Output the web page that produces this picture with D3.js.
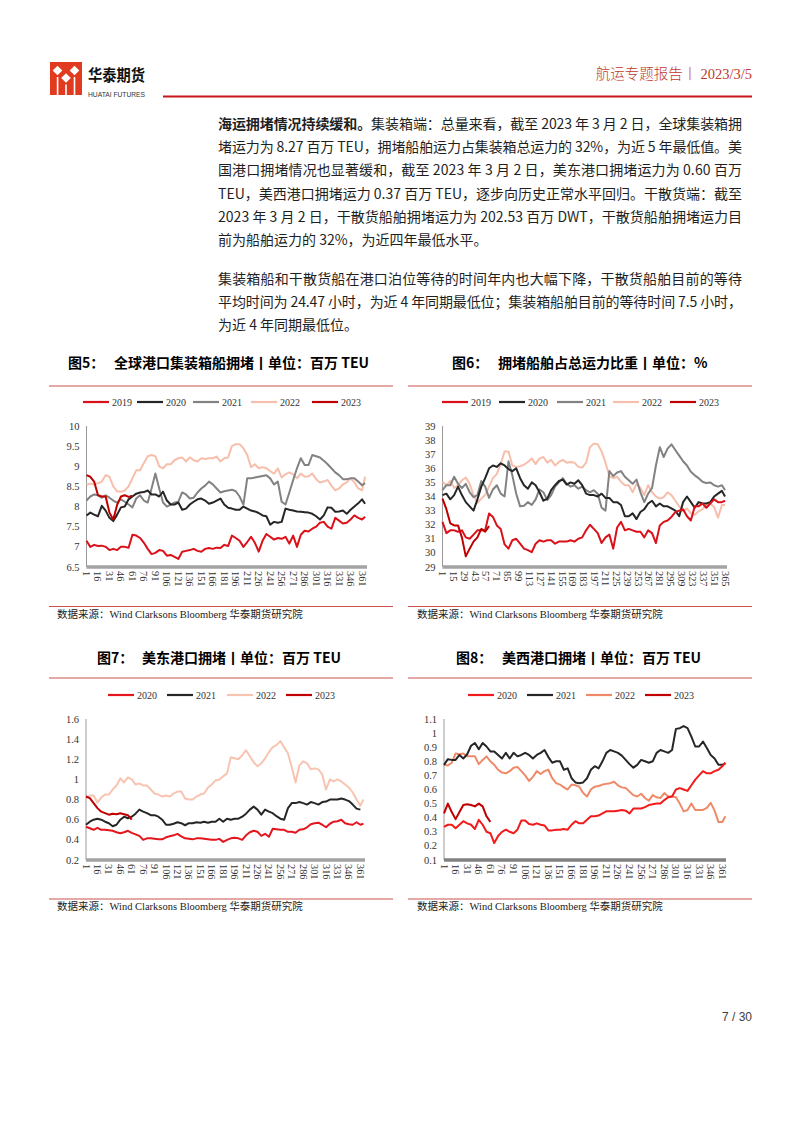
<!DOCTYPE html>
<html><head><meta charset="utf-8">
<script src="https://cdn.jsdelivr.net/npm/d3@7"></script>
<style>
html,body{margin:0;padding:0;background:#fff;}
svg{display:block;}
</style></head><body>
<svg id="page" width="802" height="1133"></svg>
<script>
// ---------- DATA ----------
const days = [1,6,11,16,21,26,31,36,41,46,51,56,61,66,71,76,81,86,91,96,101,106,111,116,121,126,131,136,141,146,151,156,161,166,171,176,181,186,191,196,201,206,211,216,221,226,231,236,241,246,251,256,261,266,271,276,281,286,291,296,301,306,311,316,321,326,331,336,341,346,351,356,361,365];

// Fig 5: global port container ship congestion (mn TEU)
const f5Years = ["2019","2020","2021","2022","2023"];
const f5_2019 = [7.15,7.0,7.05,7.02,7.03,7.0,6.92,6.95,6.92,7.0, 7.0,6.98,7.3,7.28,7.22,7.1,6.95,6.82,6.85,6.92, 6.9,6.78,6.8,6.75,6.7,6.88,6.9,6.92,6.95,6.9, 6.88,6.95,6.97,6.95,6.98,6.97,7.05,7.02,7.28,7.22, 7.15,7.0,7.12,7.25,7.1,6.88,7.15,7.32,7.25,7.18, 7.22,7.2,7.25,7.08,7.28,7.0,7.3,7.4,7.38,7.45, 7.5,7.6,7.62,7.5,7.45,7.72,7.65,7.58,7.6,7.68, 7.78,7.72,7.68,7.75];
const f5_2020 = [7.78,7.85,7.8,7.76,8.02,7.9,7.72,7.64,7.8,7.98, 8.0,8.18,8.25,8.32,8.35,8.36,8.4,8.3,8.3,8.25, 8.37,8.15,8.05,8.05,8.1,7.92,7.95,8.05,8.12,8.18, 8.2,8.15,8.07,8.1,8.15,8.2,8.05,7.97,7.95,7.92, 7.92,8.0,7.95,7.9,7.88,7.84,7.78,7.76,7.55,7.62, 7.6,7.62,7.95,7.92,7.9,7.88,7.87,7.86,7.85,7.82, 7.76,7.68,7.78,7.98,7.97,7.87,7.88,7.9,7.82,7.92, 8.0,8.08,8.18,8.07];
const f5_2021 = [8.15,8.25,8.3,8.28,8.22,8.28,8.22,8.15,8.1,8.18, 8.12,8.05,7.98,8.2,8.28,8.15,8.1,8.45,8.82,8.45, 8.1,8.0,8.05,8.1,8.12,8.35,8.3,8.2,8.22,8.35, 8.45,8.52,8.62,8.55,8.45,8.35,8.38,8.4,8.42,8.38, 8.25,8.05,8.7,8.7,8.72,8.74,8.76,8.78,8.7,8.55, 8.62,8.12,8.05,8.35,8.66,8.95,9.2,9.03,9.03,9.28, 9.25,9.22,9.14,9.05,8.95,8.85,8.78,8.68,8.68,8.7, 8.7,8.62,8.53,8.58];
const f5_2022 = [8.54,8.57,8.55,8.58,8.62,8.78,8.74,8.5,8.38,8.37, 8.4,8.5,8.7,8.9,8.9,9.08,9.25,9.28,9.25,9.0, 8.95,9.05,9.05,9.15,9.2,9.22,9.12,9.22,9.15,9.12, 9.2,9.18,9.2,9.2,9.24,9.12,9.2,9.22,9.5,9.55, 9.55,9.45,9.28,8.98,9.05,8.95,8.98,8.95,8.88,8.82, 8.95,8.72,8.8,8.85,8.8,8.7,8.82,8.74,8.75,8.82, 8.68,8.6,8.62,8.66,8.52,8.4,8.45,8.55,8.6,8.7, 8.6,8.45,8.4,8.74];
const f5_2023 = [8.78,8.74,8.62,8.28,8.25,8.25,7.85,7.68,8.04,8.25,8.28,8.24,8.27];
const f5YTicks = [6.5,7,7.5,8,8.5,9,9.5,10];
const f5XTicks = [1,16,31,46,61,76,91,106,121,136,151,166,181,196,211,226,241,256,271,286,301,316,331,346,361];

// Fig 6: congested ships share of total capacity (%)
const f6Years = ["2019","2020","2021","2022","2023"];
const f6_2019 = [32.2,31.4,31.6,31.6,31.5,31.6,31.1,31.0,31.3,31.6, 31.6,31.6,32.8,32.55,31.95,31.7,30.6,30.3,30.9,31.0, 30.65,30.3,30.2,30.05,30.65,30.9,30.8,30.9,30.9,30.65, 30.8,30.8,30.8,30.9,30.8,31.0,31.1,31.6,32.0,31.7, 31.4,30.7,31.1,31.3,30.3,31.8,32.2,31.6,31.7,31.6, 31.5,31.5,31.1,31.6,31.4,30.7,31.95,32.2,32.3,32.55, 32.9,33.0,33.1,32.6,32.3,33.3,33.3,33.5,33.2,33.5, 33.8,33.6,33.6,33.7];
const f6_2020 = [34.1,34.2,33.8,34.1,34.7,34.1,33.6,33.3,33.0,33.8, 34.7,35.3,36.0,36.2,36.1,36.35,36.2,35.95,35.8,36.0, 35.3,34.8,34.55,35.0,34.8,34.3,33.7,33.85,34.45,34.8, 35.1,35.2,34.85,35.0,34.9,35.15,34.8,34.2,34.1,34.1, 34.0,34.2,33.9,33.9,33.6,33.6,33.4,32.6,32.6,32.8, 32.4,32.9,33.1,33.5,33.7,33.3,33.5,33.3,33.3,33.15, 33.0,32.6,33.6,34.0,33.6,33.2,33.6,33.5,33.5,33.6, 34.0,34.2,34.4,34.0];
const f6_2021 = [34.45,34.8,34.8,35.4,34.9,34.6,34.9,34.3,33.95,34.1, 35.1,34.7,33.9,34.5,34.8,34.2,34.0,36.5,35.5,34.2, 33.3,33.35,33.6,33.4,33.8,34.5,34.3,33.75,34.1,34.7, 35.0,35.3,34.9,34.7,34.8,34.55,34.7,34.45,34.3,34.45, 34.2,33.2,33.0,35.8,35.45,35.7,35.8,35.4,35.15,34.9, 35.2,34.3,33.6,34.2,34.6,36.2,37.5,36.8,37.4,37.7, 37.3,36.9,36.5,36.2,35.75,35.5,35.3,35.05,34.95,35.0, 34.8,34.7,34.8,34.45];
const f6_2022 = [35.05,34.8,35.1,34.6,34.8,35.15,35.35,34.9,34.1,33.55, 33.85,34.1,34.7,35.3,35.6,36.3,37.2,37.2,36.2,36.1, 36.15,36.25,36.45,36.7,36.3,36.7,36.8,36.4,36.6,36.2, 36.45,36.6,36.4,36.45,36.4,36.1,36.05,36.4,37.5,37.75, 37.7,37.2,36.4,35.45,35.3,35.4,35.05,34.8,34.8,34.3, 34.9,34.6,34.1,34.8,34.3,34.0,33.85,33.95,34.3,34.1, 33.7,33.3,32.95,33.15,32.8,32.7,32.95,33.1,33.4,33.5, 33.25,32.5,33.4,33.4];
const f6_2023 = [33.85,33.1,32.1,31.95,31.95,31.1,29.75,30.3,30.8,31.1,31.7,31.5,31.9];
const f6YTicks = [29,30,31,32,33,34,35,36,37,38,39];
const f6XTicks = [1,15,29,43,57,71,85,99,113,127,141,155,169,183,197,211,225,239,253,267,281,295,309,323,337,351,365];

// Fig 7: US East coast port congestion (mn TEU)
const f7Years = ["2020","2021","2022","2023"];
const f7_2020 = [0.53,0.515,0.5,0.52,0.5,0.5,0.495,0.49,0.475,0.465, 0.475,0.49,0.47,0.455,0.44,0.4,0.415,0.415,0.41,0.405, 0.405,0.425,0.435,0.445,0.46,0.435,0.415,0.41,0.405,0.415, 0.415,0.41,0.405,0.4,0.4,0.41,0.38,0.4,0.415,0.42, 0.415,0.4,0.445,0.475,0.49,0.48,0.44,0.46,0.43,0.51, 0.505,0.5,0.5,0.48,0.48,0.47,0.5,0.505,0.525,0.555, 0.565,0.57,0.55,0.525,0.56,0.58,0.585,0.6,0.565,0.555, 0.55,0.575,0.55,0.56];
const f7_2021 = [0.55,0.58,0.6,0.61,0.6,0.58,0.565,0.535,0.55,0.6, 0.63,0.615,0.63,0.66,0.7,0.68,0.665,0.645,0.645,0.63, 0.6,0.55,0.55,0.56,0.575,0.565,0.545,0.565,0.565,0.575, 0.57,0.58,0.57,0.58,0.58,0.61,0.58,0.61,0.6,0.61, 0.61,0.63,0.66,0.7,0.73,0.7,0.65,0.7,0.68,0.665, 0.635,0.61,0.6,0.715,0.765,0.765,0.775,0.765,0.75,0.775, 0.765,0.75,0.775,0.78,0.8,0.8,0.8,0.81,0.8,0.785, 0.75,0.71,0.7];
const f7_2022 = [0.81,0.84,0.84,0.77,0.82,0.85,0.85,0.9,0.94,1.01, 0.97,1.02,1.0,0.95,0.96,0.94,0.94,0.9,0.86,0.85, 0.83,0.84,0.83,0.86,0.88,0.88,0.81,0.8,0.8,0.83, 0.85,0.86,0.92,0.95,0.99,1.0,1.03,1.06,1.22,1.21, 1.2,1.24,1.29,1.23,1.17,1.13,1.16,1.21,1.27,1.32, 1.34,1.38,1.32,1.26,1.12,0.97,1.14,1.18,1.16,1.1, 1.11,1.1,1.05,0.9,1.0,0.98,1.0,0.98,0.95,0.92, 0.87,0.8,0.74,0.8];
const f7_2023 = [0.83,0.815,0.765,0.715,0.68,0.665,0.65,0.66,0.655,0.665,0.655,0.645,0.60];
const f7YTicks = [0.2,0.4,0.6,0.8,1,1.2,1.4,1.6];
const f7XTicks = [1,16,31,46,61,76,91,106,121,136,151,166,181,196,211,226,241,256,271,286,301,316,331,346,361];

// Fig 8: US West coast port congestion (mn TEU)
const f8Years = ["2020","2021","2022","2023"];
const f8_2020 = [0.335,0.35,0.35,0.325,0.35,0.375,0.36,0.35,0.32,0.385, 0.35,0.3,0.29,0.22,0.27,0.3,0.315,0.3,0.29,0.315, 0.38,0.38,0.355,0.35,0.36,0.35,0.345,0.31,0.31,0.315, 0.315,0.32,0.315,0.35,0.375,0.36,0.36,0.385,0.41,0.41, 0.415,0.43,0.445,0.445,0.445,0.45,0.455,0.45,0.43,0.465, 0.465,0.465,0.475,0.49,0.495,0.5,0.5,0.525,0.545,0.55, 0.6,0.61,0.6,0.59,0.63,0.67,0.7,0.73,0.715,0.715, 0.73,0.74,0.765,0.79];
const f8_2021 = [0.775,0.815,0.81,0.81,0.845,0.82,0.85,0.91,0.93,0.885, 0.93,0.905,0.87,0.87,0.845,0.82,0.86,0.82,0.86,0.835, 0.845,0.86,0.845,0.82,0.845,0.86,0.88,0.83,0.79,0.8, 0.8,0.74,0.75,0.68,0.65,0.645,0.65,0.68,0.74,0.765, 0.75,0.8,0.86,0.88,0.87,0.86,0.84,0.81,0.78,0.755, 0.775,0.81,0.8,0.79,0.8,0.86,0.88,0.87,0.86,0.88, 1.03,1.035,1.05,1.035,0.975,0.905,0.905,0.94,0.895,0.845, 0.82,0.775,0.775,0.785];
const f8_2022 = [0.775,0.77,0.79,0.855,0.85,0.855,0.835,0.835,0.835,0.78, 0.81,0.835,0.8,0.775,0.74,0.72,0.715,0.73,0.755,0.76, 0.73,0.7,0.66,0.69,0.73,0.71,0.73,0.74,0.68,0.645, 0.635,0.615,0.6,0.635,0.63,0.62,0.575,0.55,0.6,0.62, 0.625,0.635,0.64,0.645,0.655,0.63,0.615,0.61,0.585,0.56, 0.55,0.57,0.54,0.52,0.56,0.545,0.54,0.575,0.55,0.55, 0.545,0.5,0.445,0.455,0.5,0.455,0.455,0.455,0.47,0.505, 0.45,0.37,0.37,0.41];
const f8_2023 = [0.43,0.5,0.44,0.39,0.44,0.49,0.495,0.49,0.48,0.5,0.48,0.41,0.37];
const f8YTicks = [0.1,0.2,0.3,0.4,0.5,0.6,0.7,0.8,0.9,1,1.1];
const f8XTicks = [1,16,31,46,61,76,91,106,121,136,151,166,181,196,211,226,241,256,271,286,301,316,331,346,361];

// ---------- PAGE ----------
const svg = d3.select("#page");
const CJK = "'Noto Sans CJK SC','Noto Sans',sans-serif";
const SERIF = "'Liberation Serif','DejaVu Serif',serif";
svg.append("rect").attr("width",802).attr("height",1133).attr("fill","#fff");

// header logo
const logo = svg.append("g");
logo.append("rect").attr("x",50).attr("y",62).attr("width",32).attr("height",33).attr("fill","#e23a1f");
[[57.5,70.5],[74.5,70.5],[66,78]].forEach(([cx,cy])=>{
  logo.append("polygon").attr("points",`${cx},${cy-4.8} ${cx+4.8},${cy} ${cx},${cy+4.8} ${cx-4.8},${cy}`).attr("fill","#fff");
});
[[56.8,77],[65.2,84.5],[73.7,77]].forEach(([x,y])=>{
  logo.append("rect").attr("x",x).attr("y",y).attr("width",1.6).attr("height",95-y).attr("fill","#fff");
});
svg.append("text").attr("x",88).attr("y",80.5).attr("font-family",CJK).attr("font-weight",700)
  .attr("font-size",15.5).attr("fill","#111").attr("textLength",57).attr("lengthAdjust","spacingAndGlyphs").text("华泰期货");
svg.append("text").attr("x",88).attr("y",97).attr("font-family","'Liberation Sans',Arial,sans-serif")
  .attr("font-size",7.6).attr("fill","#333").attr("textLength",57).attr("lengthAdjust","spacingAndGlyphs").text("HUATAI FUTURES");
svg.append("line").attr("x1",163).attr("x2",752).attr("y1",96.5).attr("y2",96.5).attr("stroke","#c8161d").attr("stroke-width",2);
const hdr = svg.append("text").attr("x",752).attr("y",79).attr("text-anchor","end").attr("fill","#c0392b").attr("font-size",14.5);
hdr.append("tspan").attr("font-family",CJK).attr("font-weight",300).text("航运专题报告丨 ");
hdr.append("tspan").attr("font-family",SERIF).text("2023/3/5");

// body text
const body = svg.append("g").attr("font-family",CJK).attr("font-size",14).attr("fill","#1f1f1f");
const TX0 = 218, TX1 = 742;
function textLine(y, parts, justify){
  const t = body.append("text").attr("x",TX0).attr("y",y);
  parts.forEach(p=>t.append("tspan").attr("font-weight",p.b?700:400).text(p.t));
  if(justify) t.attr("textLength",TX1-TX0).attr("lengthAdjust","spacing");
}
const para1 = [
  [{t:"海运拥堵情况持续缓和。",b:true},{t:"集装箱端：总量来看，截至 2023 年 3 月 2 日，全球集装箱拥"}],
  [{t:"堵运力为 8.27 百万 TEU，拥堵船舶运力占集装箱总运力的 32%，为近 5 年最低值。美"}],
  [{t:"国港口拥堵情况也显著缓和，截至 2023 年 3 月 2 日，美东港口拥堵运力为 0.60 百万"}],
  [{t:"TEU，美西港口拥堵运力 0.37 百万 TEU，逐步向历史正常水平回归。干散货端：截至"}],
  [{t:"2023 年 3 月 2 日，干散货船舶拥堵运力为 202.53 百万 DWT，干散货船舶拥堵运力目"}],
  [{t:"前为船舶运力的 32%，为近四年最低水平。"}]
];
const para2 = [
  [{t:"集装箱船和干散货船在港口泊位等待的时间年内也大幅下降，干散货船舶目前的等待"}],
  [{t:"平均时间为 24.47 小时，为近 4 年同期最低位；集装箱船舶目前的等待时间 7.5 小时，"}],
  [{t:"为近 4 年同期最低位。"}]
];
para1.forEach((p,i)=>textLine(129+i*23.2, p, i<para1.length-1));
para2.forEach((p,i)=>textLine(284+i*23.2, p, i<para2.length-1));

// ---------- CHART FUNCTION ----------
function drawChart(cfg){
  const g = svg.append("g");
  g.append("text").attr("x",cfg.titleX1).attr("y",cfg.titleY).attr("font-family",CJK).attr("font-weight",700)
    .attr("font-size",14).attr("fill","#000").text(cfg.fig);
  g.append("text").attr("x",cfg.titleX2).attr("y",cfg.titleY).attr("font-family",CJK).attr("font-weight",700)
    .attr("font-size",14).attr("fill","#000").text(cfg.title);
  g.append("line").attr("x1",cfg.sepX[0]).attr("x2",cfg.sepX[1]).attr("y1",cfg.sepTop).attr("y2",cfg.sepTop)
    .attr("stroke","#c9524c").attr("stroke-width",1);
  g.append("line").attr("x1",cfg.sepX[0]).attr("x2",cfg.sepX[1]).attr("y1",cfg.sepBot).attr("y2",cfg.sepBot)
    .attr("stroke","#c9524c").attr("stroke-width",1);
  const s = g.append("text").attr("x",cfg.srcX).attr("y",cfg.sepBot+11).attr("font-size",10.5).attr("fill","#222");
  s.append("tspan").attr("font-family",CJK).text("数据来源：");
  s.append("tspan").attr("font-family",SERIF).text("Wind Clarksons Bloomberg ");
  s.append("tspan").attr("font-family",CJK).text("华泰期货研究院");

  const x = d3.scaleLinear().domain([1,365]).range([cfg.px0,cfg.px1]);
  const y = d3.scaleLinear().domain(cfg.yDomain).range([cfg.py0,cfg.py1]);

  g.append("line").attr("x1",cfg.px0).attr("x2",cfg.px0).attr("y1",cfg.py1).attr("y2",cfg.py0)
    .attr("stroke","#9a9a9a").attr("stroke-width",1);
  g.selectAll(".yt").data(cfg.yTicks).enter().append("text")
    .attr("x",cfg.px0-7).attr("y",d=>y(d)+3.5).attr("text-anchor","end")
    .attr("font-family",SERIF).attr("font-size",10.5).attr("fill","#333").text(d=>d3.format("~g")(d));
  g.append("line").attr("x1",cfg.px0).attr("x2",cfg.axEnd).attr("y1",cfg.py0).attr("y2",cfg.py0)
    .attr("stroke",cfg.axColor).attr("stroke-width",3.5);
  g.selectAll(".xt").data(cfg.xTicks).enter().append("text")
    .attr("x",d=>x(d)).attr("y",cfg.py0+4)
    .attr("transform",d=>`rotate(90,${x(d)},${cfg.py0+4})`)
    .attr("text-anchor","start").attr("dominant-baseline","central")
    .attr("font-family",SERIF).attr("font-size",10.3).attr("fill","#333").text(d=>d);

  const line = d3.line().x(d=>x(d[0])).y(d=>y(d[1]));
  cfg.series.forEach(se=>{
    const pts = se.values.map((v,i)=>[days[i],v]);
    g.append("path").datum(pts).attr("d",line).attr("fill","none")
      .attr("stroke",se.color).attr("stroke-width",se.w||2).attr("stroke-linejoin","round");
  });

  cfg.series.slice().sort((a,b)=>a.order-b.order).forEach((se,i)=>{
    const lx = cfg.legX[i];
    g.append("line").attr("x1",lx).attr("x2",lx+26).attr("y1",cfg.legY).attr("y2",cfg.legY)
      .attr("stroke",se.color).attr("stroke-width",2.2);
    g.append("text").attr("x",lx+29).attr("y",cfg.legY+3.5).attr("font-family",SERIF)
      .attr("font-size",10).attr("fill","#333").text(se.name);
  });
}

const C19="#da1119", C20="#262626", C21="#828282", C22="#f7bfab", C23="#c00000";

drawChart({
  fig:"图5：", title:"全球港口集装箱船拥堵丨单位：百万 TEU", titleX1:68, titleX2:114, titleY:368,
  sepX:[49,393], sepTop:386, sepBot:606.5, srcX:57,
  px0:86.5, px1:365.1, py0:567, py1:426, axEnd:367, axColor:"#a3a3a3",
  yDomain:[6.5,10], yTicks:f5YTicks, xTicks:f5XTicks,
  legY:402, legX:[83,137,193,251,312],
  series:[
    {name:f5Years[3], values:f5_2022, color:C22, order:3},
    {name:f5Years[2], values:f5_2021, color:C21, order:2},
    {name:f5Years[1], values:f5_2020, color:C20, order:1},
    {name:f5Years[0], values:f5_2019, color:C19, order:0},
    {name:f5Years[4], values:f5_2023, color:C23, order:4}
  ]
});
drawChart({
  fig:"图6：", title:"拥堵船舶占总运力比重丨单位：%", titleX1:452, titleX2:498, titleY:368,
  sepX:[408,752], sepTop:386, sepBot:606.5, srcX:417,
  px0:442.5, px1:725, py0:567, py1:426, axEnd:727, axColor:"#a3a3a3",
  yDomain:[29,39], yTicks:f6YTicks, xTicks:f6XTicks,
  legY:402, legX:[442,499,557,613,670],
  series:[
    {name:f6Years[3], values:f6_2022, color:C22, order:3},
    {name:f6Years[2], values:f6_2021, color:C21, order:2},
    {name:f6Years[1], values:f6_2020, color:C20, order:1},
    {name:f6Years[0], values:f6_2019, color:C19, order:0},
    {name:f6Years[4], values:f6_2023, color:C23, order:4}
  ]
});
drawChart({
  fig:"图7：", title:"美东港口拥堵丨单位：百万 TEU", titleX1:97, titleX2:142, titleY:663,
  sepX:[49,393], sepTop:678, sepBot:899, srcX:57,
  px0:86, px1:363.4, py0:860, py1:719, axEnd:365, axColor:"#a3a3a3",
  yDomain:[0.2,1.6], yTicks:f7YTicks, xTicks:f7XTicks,
  legY:695, legX:[108,167,227,286],
  series:[
    {name:f7Years[2], values:f7_2022, color:"#f8c4b1", order:2},
    {name:f7Years[1], values:f7_2021, color:C20, order:1},
    {name:f7Years[0], values:f7_2020, color:"#e3161e", order:0},
    {name:f7Years[3], values:f7_2023, color:C23, order:3}
  ]
});
drawChart({
  fig:"图8：", title:"美西港口拥堵丨单位：百万 TEU", titleX1:456, titleX2:502, titleY:663,
  sepX:[408,752], sepTop:678, sepBot:899, srcX:417,
  px0:444, px1:725.4, py0:860, py1:719, axEnd:726, axColor:"#808080",
  yDomain:[0.1,1.1], yTicks:f8YTicks, xTicks:f8XTicks,
  legY:695, legX:[468,527,586,645],
  series:[
    {name:f8Years[2], values:f8_2022, color:"#ef8a68", order:2},
    {name:f8Years[1], values:f8_2021, color:C20, order:1},
    {name:f8Years[0], values:f8_2020, color:"#f21a1a", order:0},
    {name:f8Years[3], values:f8_2023, color:C23, order:3}
  ]
});

svg.append("text").attr("x",752).attr("y",1021).attr("text-anchor","end")
  .attr("font-family","'Liberation Sans',Arial,sans-serif").attr("font-size",12).attr("fill","#404040").text("7 / 30");
</script></body></html>
